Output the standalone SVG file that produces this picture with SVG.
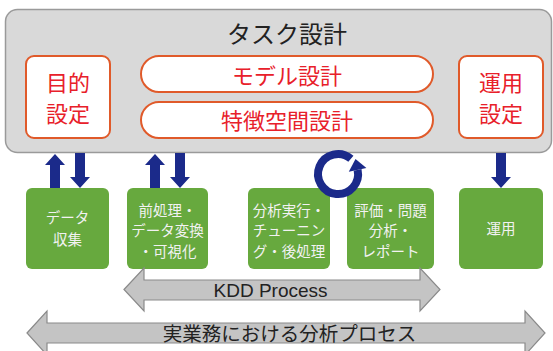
<svg xmlns="http://www.w3.org/2000/svg" width="553" height="351" viewBox="0 0 553 351">
<style>
.jp{font-family:"Noto Sans CJK JP","Noto Sans",sans-serif}
.red{fill:#e8202a;font-size:22px;text-anchor:middle}
.rbox{fill:#fff;stroke:#e05a2a;stroke-width:2}
.gbox{fill:#67a93e}
.gt{fill:#f2f2f2;font-size:14.5px;text-anchor:middle}
.blue{fill:#1b2a8a}
.gar{fill:#c4c4c4;stroke:#8a8a8a;stroke-width:1.2}
</style>
<g id="task">
<rect x="5.5" y="9.5" width="546" height="143" rx="12" fill="#d9d9d9" stroke="#9a9a9a" stroke-width="1.5"/>
<text class="jp" x="287" y="43" font-size="24" fill="#222" text-anchor="middle">タスク設計</text>
</g>
<g id="mokuteki">
<rect class="rbox" x="26" y="56" width="84" height="82" rx="8"/>
<text class="jp red" x="68" y="91">目的</text>
<text class="jp red" x="68" y="122">設定</text>
</g>
<g id="model">
<rect class="rbox" x="141" y="56" width="292" height="36" rx="18"/>
<text class="jp red" x="287" y="84" font-size="24">モデル設計</text>
</g>
<g id="feature">
<rect class="rbox" x="141" y="102" width="292" height="36" rx="18"/>
<text class="jp red" x="287" y="129" font-size="24">特徴空間設計</text>
</g>
<g id="unyou-settei">
<rect class="rbox" x="459" y="56" width="84" height="82" rx="8"/>
<text class="jp red" x="501" y="91">運用</text>
<text class="jp red" x="501" y="122">設定</text>
</g>
<g id="collect">
<rect class="gbox" x="26" y="188" width="83" height="81" rx="6"/>
<text class="jp gt" x="67.5" y="223">データ</text>
<text class="jp gt" x="67.5" y="245">収集</text>
</g>
<g id="preprocess">
<rect class="gbox" x="127" y="188" width="81" height="81" rx="6"/>
<text class="jp gt" x="167.5" y="216">前処理・</text>
<text class="jp gt" x="167.5" y="236">データ変換</text>
<text class="jp gt" x="167.5" y="257">・可視化</text>
</g>
<g id="analysis">
<rect class="gbox" x="248" y="188" width="82" height="81" rx="6"/>
<text class="jp gt" x="289" y="216">分析実行・</text>
<text class="jp gt" x="289" y="236">チューニン</text>
<text class="jp gt" x="289" y="257">グ・後処理</text>
</g>
<g id="evaluate">
<rect class="gbox" x="347" y="188" width="87" height="81" rx="6"/>
<text class="jp gt" x="390.5" y="216">評価・問題</text>
<text class="jp gt" x="390.5" y="236">分析・</text>
<text class="jp gt" x="390.5" y="257">レポート</text>
</g>
<g id="unyou">
<rect class="gbox" x="459" y="188" width="84" height="81" rx="6"/>
<text class="jp gt" x="501" y="234">運用</text>
</g>
<g id="connectors">
<polygon class="blue" points="55,154 65,165 60,165 60,188 50,188 50,165 45,165"/>
<polygon class="blue" points="75,153 85,153 85,177 90,177 80,188 70,177 75,177"/>
<polygon class="blue" points="155,154 165,165 160,165 160,188 150,188 150,165 145,165"/>
<polygon class="blue" points="175,153 185,153 185,177 190,177 180,188 170,177 175,177"/>
<polygon class="blue" points="496,153 506,153 506,177 511,177 501,188 491,177 496,177"/>
<path d="M350.9,158.7 A20,20 0 1 0 357.6,169.8" fill="none" stroke="#1b2a8a" stroke-width="8"/>
<polygon class="blue" points="366.4,167.9 348.8,171.7 355.5,159"/>
<polygon class="gar" points="124,289.5 144,268 144,280 420,280 420,268 440,289.5 420,311 420,300 144,300 144,311"/>
<text x="270.5" y="296.5" font-family="Liberation Sans, Arial, sans-serif" font-size="19" fill="#222" text-anchor="middle">KDD Process</text>
<polygon class="gar" points="27,333 47,311 47,323 525,323 525,311 545,333 525,355 525,343 47,343 47,355"/>
<text class="jp" x="289.5" y="341" font-size="19.5" fill="#222" text-anchor="middle">実業務における分析プロセス</text>
</g>
</svg>
